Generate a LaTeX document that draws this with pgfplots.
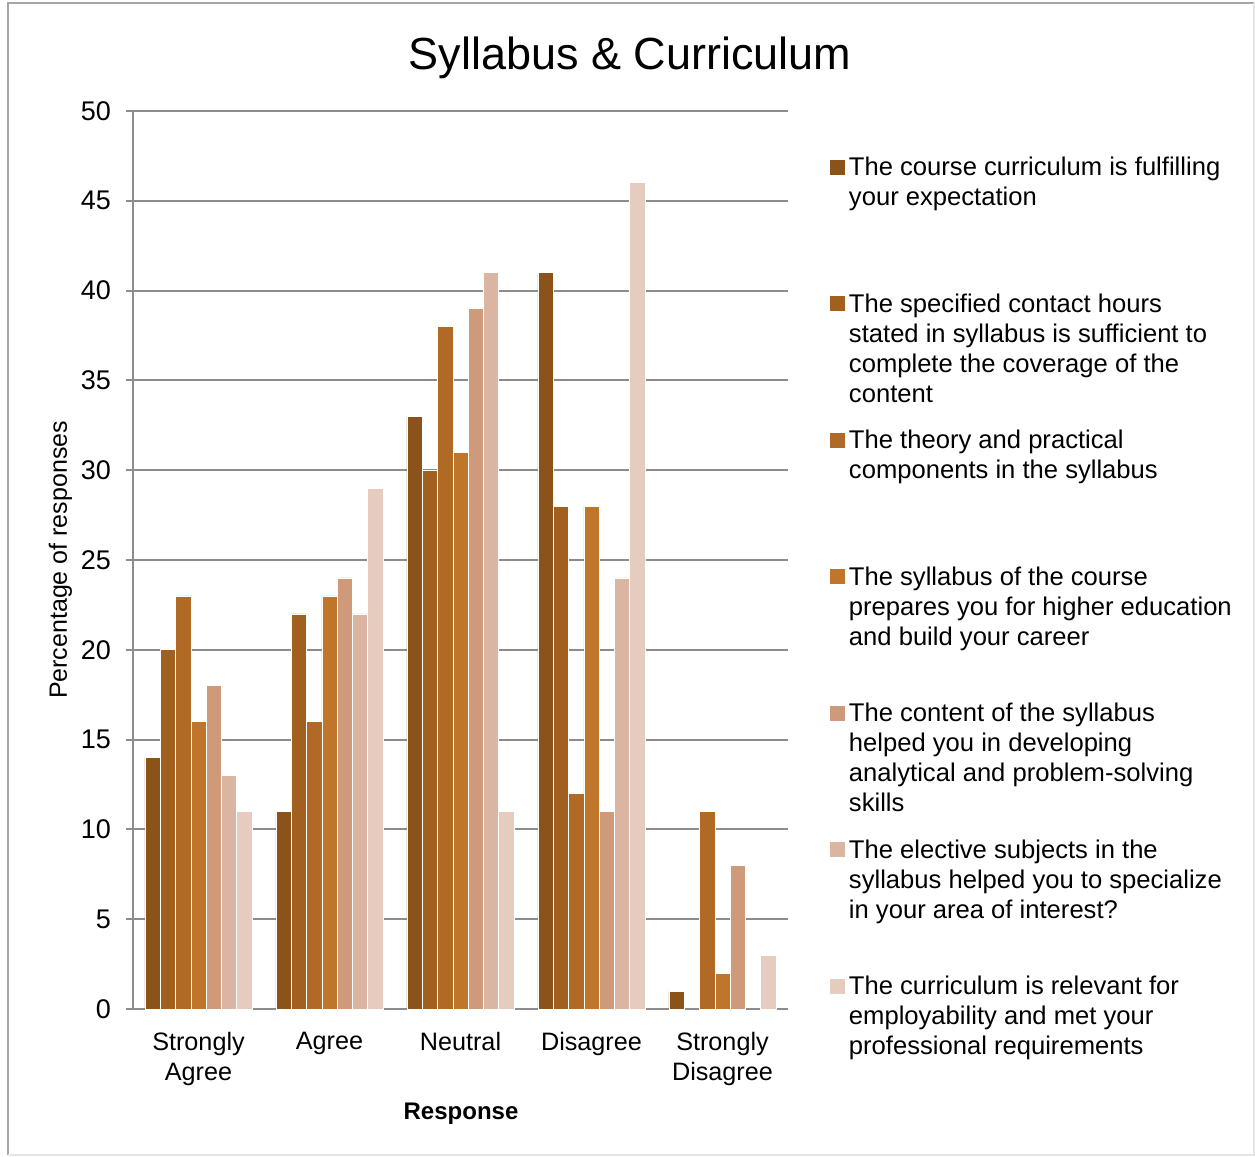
\documentclass[border=0pt]{standalone}
\usepackage{pgfplots}
\pgfplotsset{compat=1.18}
\usepackage{fontspec}
\setmainfont{Liberation Sans}
\definecolor{c1}{HTML}{8B5219}
\definecolor{c2}{HTML}{A16020}
\definecolor{c3}{HTML}{B06A25}
\definecolor{c4}{HTML}{C0762A}
\definecolor{c5}{HTML}{CF9A7A}
\definecolor{c6}{HTML}{DAB5A2}
\definecolor{c7}{HTML}{E6CBBF}
\definecolor{gridc}{HTML}{8C8C8C}
\pgfplotsset{sq/.style={legend image code/.code={\fill[##1,draw=none] (0pt,0.5pt) rectangle (7.5pt,8pt);}}}
\newcommand{\legtxt}[1]{\parbox[t]{200pt}{#1}}
\begin{document}
\begin{tikzpicture}
\useasboundingbox (0,0) rectangle (627.5pt,-578.5pt);
\fill[white] (0,0) rectangle (627.5pt,-578.5pt);
\draw[gray!70, line width=1pt] (4pt,-577.5pt) -- (4pt,-1.5pt) -- (627pt,-1.5pt);
\draw[gray!20, line width=1pt] (4pt,-577.5pt) -- (627pt,-577.5pt) -- (627pt,-1.5pt);
\node[anchor=base, font=\fontsize{22.5}{27}\selectfont] at (315pt,-34.5pt) {Syllabus \& Curriculum};
\begin{axis}[
  at={(66.5pt,-504.5pt)}, anchor=south west,
  width=327.5pt, height=449pt, scale only axis,
  ybar=0pt, bar width=7.65pt,
  xmin=-0.5, xmax=4.5, ymin=0, ymax=50,
  ytick={0,5,...,50},
  xtick={0,1,2,3,4},
  xticklabels={{Strongly\\Agree},Agree,Neutral,Disagree,{Strongly\\Disagree}},
  axis lines=left, axis line style={-, draw=gridc, line width=1pt},
  ymajorgrids, major grid style={draw=gridc, line width=1pt},
  tick align=outside, major tick length=3.5pt,
  ytick style={draw=gridc, line width=1pt},
  xtick style={draw=none},
  /pgf/number format/assume math mode=true,
  yticklabel style={font=\fontsize{13.5}{16}\selectfont, anchor=east, xshift=-4pt},
  xticklabel style={font=\fontsize{12.6}{15}\selectfont, align=center, anchor=north, inner sep=0pt, yshift=-8pt},
  every axis y label/.style={at={(axis description cs:-0.1008,0.5)}, rotate=90, anchor=base},
  every axis x label/.style={at={(axis description cs:0.5008,-0.1225)}, anchor=base},
  ylabel={\fontsize{12.5}{15}\selectfont Percentage of responses},
  xlabel={\fontsize{12}{15}\selectfont\bfseries Response},
  legend style={at={(axis description cs:1.0641,0.9532)}, anchor=north west,
    draw=none, fill=none, font=\fontsize{12.8}{15}\selectfont,
    inner sep=0pt, outer sep=0pt, row sep=53.5pt,
    cells={anchor=base west, inner sep=0pt},
    /tikz/every even column/.append style={column sep=2.5pt}},
]
\addplot[fill=c1, draw=white, line width=0.35pt, sq] coordinates {(0,14) (1,11) (2,33) (3,41) (4,1)};
\addlegendentry{\legtxt{The course curriculum is fulfilling\\your expectation}}
\addplot[fill=c2, draw=white, line width=0.35pt, sq] coordinates {(0,20) (1,22) (2,30) (3,28)};
\addlegendentry{\legtxt{The specified contact hours\\stated in syllabus is sufficient to\\complete the coverage of the\\content}}
\addplot[fill=c3, draw=white, line width=0.35pt, sq] coordinates {(0,23) (1,16) (2,38) (3,12) (4,11)};
\addlegendentry{\legtxt{The theory and practical\\components in the syllabus}}
\addplot[fill=c4, draw=white, line width=0.35pt, sq] coordinates {(0,16) (1,23) (2,31) (3,28) (4,2)};
\addlegendentry{\legtxt{The syllabus of the course\\prepares you for higher education\\and build your career}}
\addplot[fill=c5, draw=white, line width=0.35pt, sq] coordinates {(0,18) (1,24) (2,39) (3,11) (4,8)};
\addlegendentry{\legtxt{The content of the syllabus\\helped you in developing\\analytical and problem-solving\\skills}}
\addplot[fill=c6, draw=white, line width=0.35pt, sq] coordinates {(0,13) (1,22) (2,41) (3,24)};
\addlegendentry{\legtxt{The elective subjects in the\\syllabus helped you to specialize\\in your area of interest?}}
\addplot[fill=c7, draw=white, line width=0.35pt, sq] coordinates {(0,11) (1,29) (2,11) (3,46) (4,3)};
\addlegendentry{\legtxt{The curriculum is relevant for\\employability and met your\\professional requirements}}
\end{axis}
\end{tikzpicture}
\end{document}
